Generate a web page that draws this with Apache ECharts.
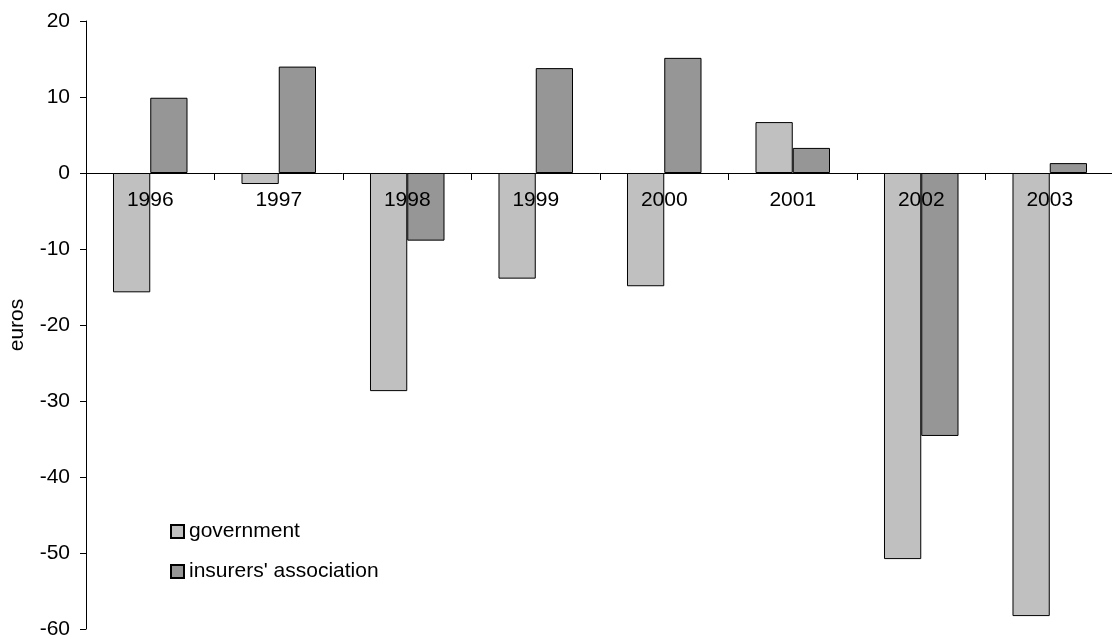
<!DOCTYPE html>
<html>
<head>
<meta charset="utf-8">
<script src="https://cdn.jsdelivr.net/npm/echarts@6/dist/echarts.min.js"></script>
<style>
html,body{margin:0;padding:0;background:#fff;}
#c{width:1112px;height:639px;}
</style>
</head>
<body>
<div id="c"></div>
<script>
const categories = ['1996','1997','1998','1999','2000','2001','2002','2003'];
const government = [-15.7, -1.45, -28.7, -13.9, -14.9, 6.7, -50.8, -58.3];
const insurers = [9.9, 14.0, -8.9, 13.8, 15.15, 3.3, -34.6, 1.3];
const yTicks = {min: -60, max: 20, interval: 10};

const W = 1112, H = 639;
const gridTop = 21, gridBottom = 10;
const plotH = H - gridTop - gridBottom;
// distance from bottom of plot up to the zero line, via the axis scale
const zeroFromBottom = plotH * (0 - yTicks.min) / (yTicks.max - yTicks.min);

const chart = echarts.init(document.getElementById('c'), null, {renderer: 'canvas'});
const font = 'Liberation Sans, Arial, sans-serif';
chart.setOption({
  animation: false,
  backgroundColor: '#fff',
  textStyle: {fontFamily: font},
  grid: {left: 86, right: -2, top: gridTop, bottom: gridBottom, containLabel: false, outerBoundsMode: 'none'},
  legend: {
    orient: 'vertical',
    left: 165, top: 516,
    itemWidth: 13, itemHeight: 13, itemGap: 19,
    icon: 'rect',
    textStyle: {fontSize: 21, color: '#000', fontFamily: font},
    data: ['government', "insurers' association"]
  },
  xAxis: [
    {
      type: 'category',
      data: categories,
      axisLine: {onZero: true, lineStyle: {color: '#000', width: 1}},
      axisTick: {show: true, alignWithLabel: false, length: 7, lineStyle: {color: '#000'}},
      axisLabel: {show: false},
      splitLine: {show: false}
    },
    {
      type: 'category',
      data: categories,
      position: 'bottom',
      offset: -zeroFromBottom,
      z: 10,
      axisLine: {show: false, onZero: false},
      axisTick: {show: false},
      axisLabel: {color: '#000', fontSize: 21, margin: 17, fontFamily: font},
      splitLine: {show: false}
    }
  ],
  yAxis: {
    type: 'value',
    min: yTicks.min, max: yTicks.max, interval: yTicks.interval,
    name: 'euros',
    nameLocation: 'middle',
    nameGap: 58,
    nameRotate: 90,
    nameTextStyle: {color: '#000', fontSize: 21, fontFamily: font},
    axisLine: {show: true, lineStyle: {color: '#000', width: 1}},
    axisTick: {show: true, length: 6, lineStyle: {color: '#000'}},
    axisLabel: {color: '#000', fontSize: 21, margin: 16, fontFamily: font},
    splitLine: {show: false}
  },
  series: [
    {
      name: 'government', type: 'bar', data: government, xAxisIndex: 0,
      barGap: '0%', barCategoryGap: '42%',
      itemStyle: {color: '#c0c0c0', borderColor: '#000', borderWidth: 1}
    },
    {
      name: "insurers' association", type: 'bar', data: insurers, xAxisIndex: 0,
      barGap: '0%', barCategoryGap: '42%',
      itemStyle: {color: '#969696', borderColor: '#000', borderWidth: 1}
    }
  ]
});
</script>
</body>
</html>
